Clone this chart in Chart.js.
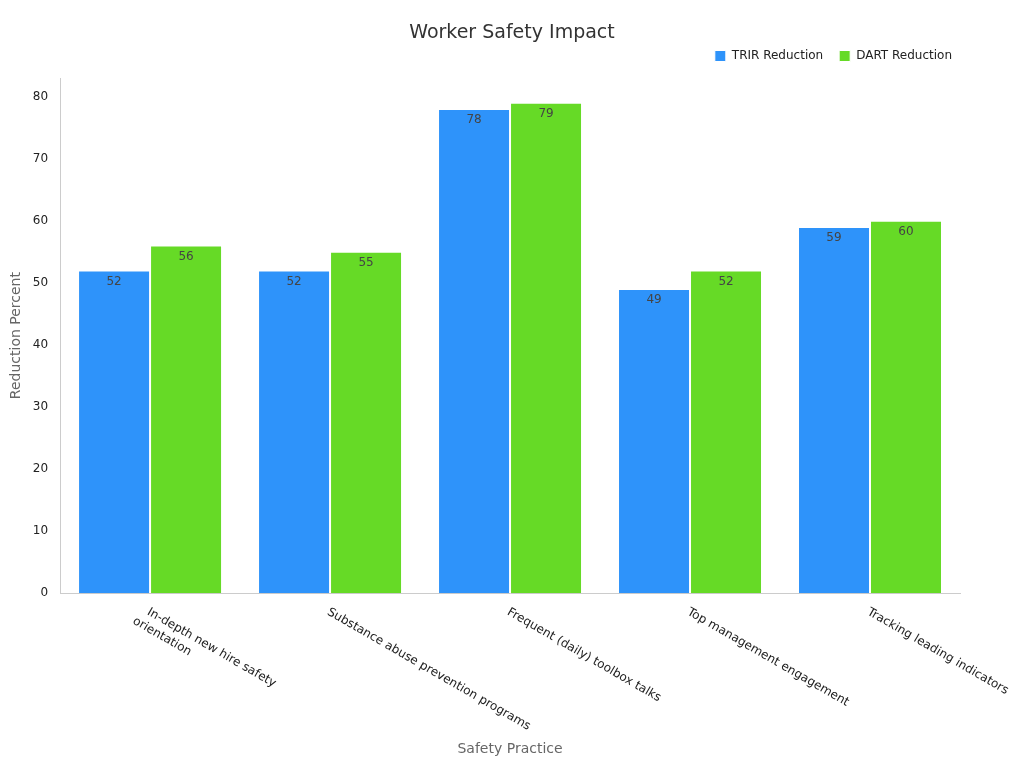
<!DOCTYPE html>
<html>
<head>
<meta charset="utf-8">
<script src="https://cdn.jsdelivr.net/npm/chart.js@4"></script>
<style>
  html, body { margin: 0; background: #fff; }
  #wrap { width: 1024px; height: 768px; }
</style>
</head>
<body>
<div id="wrap"><canvas id="chart"></canvas></div>
<script>
const chartTitle = 'Worker Safety Impact';
const categories = [
    ['In-depth new hire safety', 'orientation'],
    ['Substance abuse prevention programs'],
    ['Frequent (daily) toolbox talks'],
    ['Top management engagement'],
    ['Tracking leading indicators'],
];
const trirValues = [52, 52, 78, 49, 59];
const dartValues = [56, 55, 79, 52, 60];
const yTicks = [0, 10, 20, 30, 40, 50, 60, 70, 80];

// draws the title, value labels inside bar tops and the slanted category labels
const labelsPlugin = {
    id: 'labels',
    afterDatasetsDraw(chart) {
        const ctx = chart.ctx;
        ctx.save();
        ctx.font = '19px "DejaVu Sans", sans-serif';
        ctx.fillStyle = '#333';
        ctx.textAlign = 'center';
        ctx.textBaseline = 'middle';
        ctx.fillText(chartTitle, chart.width / 2, 33);

        ctx.font = '12px "DejaVu Sans", sans-serif';
        ctx.fillStyle = '#444';
        ctx.textBaseline = 'top';
        chart.data.datasets.forEach((ds, i) => {
            chart.getDatasetMeta(i).data.forEach((bar, j) => {
                ctx.fillText(ds.data[j], bar.x, bar.y + 5);
            });
        });
        const xs = chart.scales.x;
        ctx.fillStyle = '#222';
        ctx.textAlign = 'left';
        ctx.textBaseline = 'middle';
        categories.forEach((lines, j) => {
            const x = xs.getPixelForValue(j);
            ctx.save();
            ctx.translate(x - 2, xs.top + 18);
            ctx.rotate(Math.PI / 6);
            lines.forEach((l, k) => ctx.fillText(l, k === 0 ? 0 : -8, k * 15));
            ctx.restore();
        });
        ctx.restore();
    }
};

new Chart(document.getElementById('chart'), {
    type: 'bar',
    data: {
        labels: categories.map(c => c.join(' ')),
        datasets: [
            { label: 'TRIR Reduction', data: trirValues, backgroundColor: '#2E93FA', borderColor: '#fff', borderWidth: 1 },
            { label: 'DART Reduction', data: dartValues, backgroundColor: '#66DA26', borderColor: '#fff', borderWidth: 1 },
        ],
    },
    options: {
        responsive: true,
        maintainAspectRatio: false,
        animation: false,
        layout: { padding: { left: 4, right: 56, top: 34, bottom: 6 } },
        datasets: { bar: { categoryPercentage: 0.8, barPercentage: 1 } },
        scales: {
            x: {
                grid: { display: false },
                border: { color: '#ccc' },
                ticks: { display: false },
                title: { display: true, text: 'Safety Practice', color: '#666', font: { size: 14, family: '"DejaVu Sans"' }, padding: { top: 140 } },
            },
            y: {
                min: 0, max: 83,
                afterBuildTicks: s => { s.ticks = yTicks.map(v => ({ value: v })); },
                grid: { display: false, drawTicks: true },
                border: { color: '#ccc' },
                ticks: { color: '#222', font: { size: 12, family: '"DejaVu Sans"' }, padding: 4 },
                title: { display: true, text: 'Reduction Percent', color: '#666', font: { size: 14, family: '"DejaVu Sans"' } },
            },
            spacer: {
                position: 'right',
                grid: { display: false },
                border: { display: false },
                ticks: { display: false },
                afterFit: s => { s.width = 8; },
            },
        },
        plugins: {
            title: { display: false },
            legend: {
                align: 'end',
                labels: { boxWidth: 11, boxHeight: 11, color: '#222', font: { size: 12, family: '"DejaVu Sans"' }, padding: 16 },
            },
            tooltip: { enabled: false },
        },
    },
    plugins: [labelsPlugin, {
        id: 'legendGap',
        beforeInit(chart) {
            const fit = chart.legend.fit;
            chart.legend.fit = function () { fit.call(this); this.height += 6; };
        },
    }],
});
</script>
</body>
</html>
